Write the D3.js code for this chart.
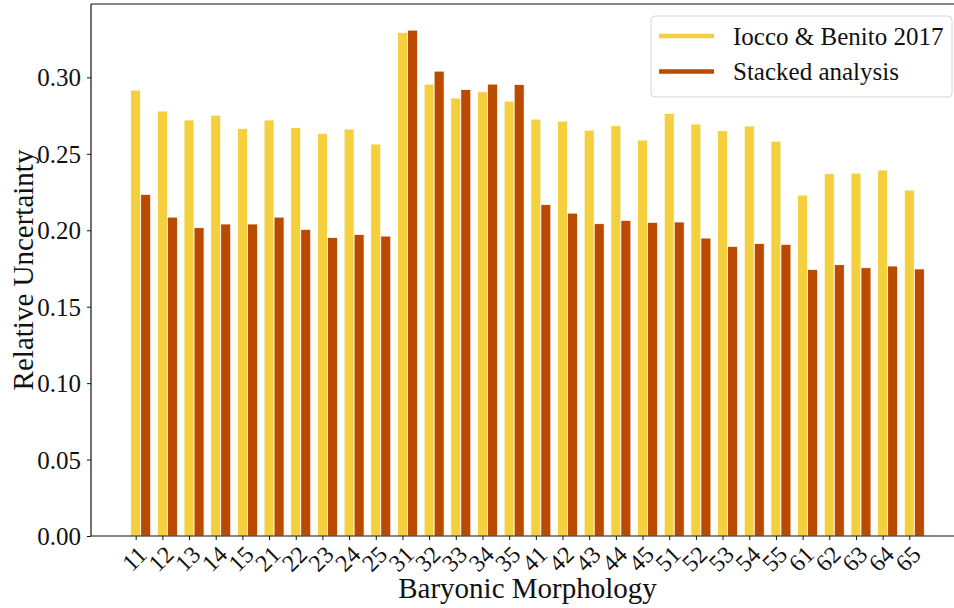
<!DOCTYPE html>
<html>
<head>
<meta charset="utf-8">
<script src="https://cdn.jsdelivr.net/npm/d3@7"></script>
<style>
  body { margin: 0; background: #fff; }
  svg text { font-family: "Liberation Serif", "DejaVu Serif", serif; fill: #111; }
</style>
</head>
<body>
<div id="plot"></div>
<script>
// chart data

  const categories = ["11","12","13","14","15","21","22","23","24","25",
                      "31","32","33","34","35","41","42","43","44","45",
                      "51","52","53","54","55","61","62","63","64","65"];

  const ioccoBenito = [0.2917, 0.2780, 0.2721, 0.2753, 0.2666, 0.2721, 0.2673, 0.2634, 0.2662, 0.2564,
                       0.3294, 0.2956, 0.2865, 0.2906, 0.2845, 0.2727, 0.2714, 0.2655, 0.2684, 0.2590,
                       0.2764, 0.2695, 0.2651, 0.2682, 0.2583, 0.2230, 0.2370, 0.2374, 0.2394, 0.2263];

  const stacked = [0.2235, 0.2086, 0.2017, 0.2041, 0.2041, 0.2086, 0.2006, 0.1953, 0.1973, 0.1962,
                   0.3309, 0.3041, 0.2921, 0.2956, 0.2954, 0.2169, 0.2112, 0.2043, 0.2065, 0.2052,
                   0.2054, 0.1949, 0.1895, 0.1914, 0.1908, 0.1744, 0.1775, 0.1755, 0.1766, 0.1747];

  const yTicks = [0.00, 0.05, 0.10, 0.15, 0.20, 0.25, 0.30];

  const series = [
    {name: "Iocco & Benito 2017", values: ioccoBenito, color: "#F4D03F"},
    {name: "Stacked analysis", values: stacked, color: "#BA4A00"}
  ];

  const serif = '"Liberation Serif", "DejaVu Serif", serif';

  const w = 954;
  const h = 608;
  const margin = {top: 4, right: 0, bottom: 72, left: 91};
  const innerWidth = w - margin.left - margin.right;
  const innerHeight = h - margin.top - margin.bottom;

  const barW = 0.375;

  // right end of the x range sits past the picture edge, as in the reference
  const xScale = d3.scaleLinear()
      .domain([-1.675, 31.05])
      .range([0, 873]);

  const yScale = d3.scaleLinear()
      .domain([0, 0.348])
      .range([innerHeight, 0]);

// svg

  const svg = d3.select("#plot")
    .append("svg")
      .attr("width", w)
      .attr("height", h);

  const g = svg.append("g")
      .attr("transform", `translate(${margin.left}, ${margin.top})`);

// bars

  series.forEach((s, si) => {
    g.append("g")
      .selectAll("rect")
      .data(s.values)
      .enter().append("rect")
        .attr("x", (d, i) => xScale(i - barW / 2 + si * barW))
        .attr("y", d => yScale(d))
        .attr("width", xScale(barW) - xScale(0))
        .attr("height", d => yScale(0) - yScale(d))
        .attr("fill", s.color)
        .attr("stroke", "#fff")
        .attr("stroke-width", 0.8);
  });

// axes

  const yAxis = d3.axisLeft(yScale)
      .tickValues(yTicks)
      .tickFormat(d3.format(".2f"))
      .tickSize(4)
      .tickPadding(6);

  const xAxis = d3.axisBottom(xScale)
      .tickValues(d3.range(categories.length))
      .tickFormat(() => "")
      .tickSize(4);

  const yG = g.append("g").call(yAxis)
      .attr("font-family", serif)
      .attr("font-size", 25);
  yG.select(".domain").remove();
  yG.selectAll("text").attr("dy", "0.34em");
  yG.selectAll("line").attr("stroke", "#111");

  const xG = g.append("g")
      .attr("transform", `translate(0, ${innerHeight})`)
      .call(xAxis);
  xG.select(".domain").remove();
  xG.selectAll("line").attr("stroke", "#111");

  g.append("g")
      .attr("font-family", serif)
      .attr("font-size", 24)
    .selectAll("text")
      .data(categories)
      .enter().append("text")
        .attr("transform", (d, i) => `translate(${xScale(i) - 1}, ${innerHeight + 23}) rotate(-45)`)
        .attr("text-anchor", "middle")
        .attr("dy", "0.32em")
        .text(d => d);

// spines

  g.append("line").attr("x1", 0).attr("x2", 0).attr("y1", 0).attr("y2", innerHeight)
      .attr("stroke", "#111").attr("stroke-width", 1.2);
  g.append("line").attr("x1", 0).attr("x2", innerWidth).attr("y1", innerHeight).attr("y2", innerHeight)
      .attr("stroke", "#111").attr("stroke-width", 1.2);
  g.append("line").attr("x1", 0).attr("x2", innerWidth).attr("y1", 0).attr("y2", 0)
      .attr("stroke", "#111").attr("stroke-width", 1.2);

// axis labels

  svg.append("text")
      .attr("x", margin.left + 873 / 2)
      .attr("y", 598)
      .attr("text-anchor", "middle")
      .attr("font-size", 29)
      .text("Baryonic Morphology");

  svg.append("text")
      .attr("transform", `translate(33, ${margin.top + innerHeight / 2}) rotate(-90)`)
      .attr("text-anchor", "middle")
      .attr("font-size", 29)
      .text("Relative Uncertainty");

// legend

  const legend = svg.append("g")
      .attr("transform", "translate(651, 16)");

  legend.append("rect")
      .attr("width", 301)
      .attr("height", 81)
      .attr("rx", 4)
      .attr("fill", "#fff")
      .attr("fill-opacity", 0.8)
      .attr("stroke", "#d6d6d6")
      .attr("stroke-width", 1);

  series.forEach((s, i) => {
    const ly = 20 + i * 35.5;
    legend.append("line")
        .attr("x1", 8).attr("x2", 63)
        .attr("y1", ly).attr("y2", ly)
        .attr("stroke", s.color)
        .attr("stroke-width", 4.5);
    legend.append("text")
        .attr("x", 82)
        .attr("y", ly)
        .attr("dy", "0.34em")
        .attr("font-size", 25)
        .text(s.name);
  });
</script>
</body>
</html>
